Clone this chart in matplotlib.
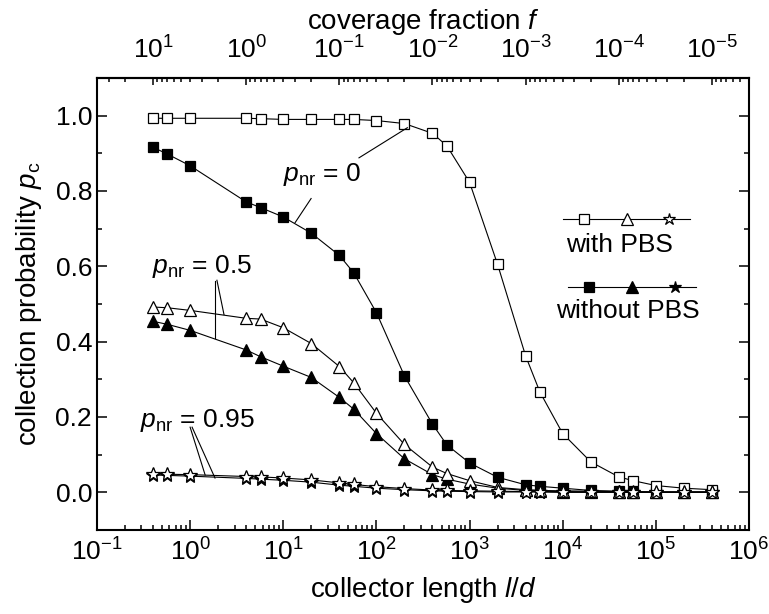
import matplotlib
matplotlib.use('Agg')
import matplotlib.pyplot as plt
from matplotlib.ticker import MultipleLocator, LogLocator, FixedLocator
import numpy as np

plt.rcParams['font.family'] = ['Liberation Sans', 'DejaVu Sans']
plt.rcParams['mathtext.fontset'] = 'custom'
plt.rcParams['mathtext.rm'] = 'Liberation Sans'
plt.rcParams['mathtext.it'] = 'Liberation Sans:italic'
plt.rcParams['axes.unicode_minus'] = False

# collector length l/d (shared by all series); coverage fraction f = 4 / (l/d)
length = [0.4, 0.57, 1, 4, 5.7, 10, 20, 40, 57, 100, 200, 400, 570, 1000,
          2000, 4000, 5700, 1e4, 2e4, 4e4, 5.7e4, 1e5, 2e5, 4e5]
bottom_ticks = [1e-1, 1e0, 1e1, 1e2, 1e3, 1e4, 1e5, 1e6]
top_ticks = [1e1, 1e0, 1e-1, 1e-2, 1e-3, 1e-4, 1e-5]

# p_nr = 0
sq_pbs = [0.993, 0.993, 0.993, 0.993, 0.992, 0.990, 0.990, 0.990, 0.990, 0.987,
          0.979, 0.953, 0.920, 0.823, 0.605, 0.362, 0.266, 0.156, 0.081, 0.041,
          0.031, 0.018, 0.011, 0.007]
sq_nopbs = [0.916, 0.898, 0.867, 0.771, 0.756, 0.731, 0.688, 0.629, 0.583, 0.477,
            0.309, 0.181, 0.126, 0.078, 0.040, 0.020, 0.016, 0.011, 0.005, 0.003,
            0.002, 0.001, 0.001, 0.001]
# p_nr = 0.5
tri_pbs = [0.492, 0.490, 0.483, 0.462, 0.460, 0.437, 0.395, 0.334, 0.291, 0.210,
           0.127, 0.067, 0.050, 0.031, 0.013, 0.007, 0.005, 0.004, 0.003, 0.002,
           0.001, 0.001, 0.001, 0.001]
tri_nopbs = [0.454, 0.446, 0.430, 0.378, 0.360, 0.335, 0.305, 0.252, 0.221, 0.156,
             0.089, 0.047, 0.035, 0.022, 0.011, 0.005, 0.003, 0.002, 0.001, 0.001,
             0.001, 0.000, 0.000, 0.000]
# p_nr = 0.95
star_pbs = [0.049, 0.048, 0.047, 0.042, 0.041, 0.038, 0.033, 0.025, 0.021, 0.015,
            0.010, 0.006, 0.005, 0.004, 0.003, 0.002, 0.002, 0.001, 0.001, 0.001,
            0.001, 0.000, 0.000, 0.000]
star_nopbs = [0.046, 0.045, 0.043, 0.037, 0.035, 0.032, 0.027, 0.019, 0.016, 0.011,
              0.007, 0.004, 0.003, 0.002, 0.001, 0.001, 0.001, 0.000, 0.000, 0.000,
              0.000, 0.000, 0.000, 0.000]

fig = plt.figure(figsize=(7.69, 6.14), dpi=100)
ax = fig.add_axes([0.1261, 0.1368, 0.8479, 0.7362])

lw = 0.8
# filled (without PBS) first, open (with PBS) on top
series = [
    (sq_nopbs, 's', 'black', 7.5),
    (tri_nopbs, '^', 'black', 9),
    (star_nopbs, '*', 'black', 10),
    (sq_pbs, 's', 'white', 7.5),
    (tri_pbs, '^', 'white', 9),
    (star_pbs, '*', 'white', 10),
]
for vals, mk, fc, ms in series:
    ax.plot(length, vals, color='black', linewidth=lw, marker=mk, markersize=ms,
            markerfacecolor=fc, markeredgecolor='black', markeredgewidth=0.9)

ax.set_xscale('log')
ax.set_xlim(0.1, 1e6)
ax.set_ylim(-0.1, 1.1)
ax.yaxis.set_minor_locator(MultipleLocator(0.1))
ax.xaxis.set_major_locator(FixedLocator(bottom_ticks))
ax.xaxis.set_minor_locator(LogLocator(base=10, subs=np.arange(2, 10), numticks=20))
ax.set_yticks([0, 0.2, 0.4, 0.6, 0.8, 1.0])
ax.set_yticklabels(['0.0', '0.2', '0.4', '0.6', '0.8', '1.0'])

for s in ax.spines.values():
    s.set_linewidth(1.5)
ax.tick_params(axis='both', which='both', direction='in', width=1.1,
               labelsize=19, top=False, right=True)
ax.tick_params(axis='both', which='major', length=7)
ax.tick_params(axis='both', which='minor', length=3.5)
ax.tick_params(axis='x', which='major', pad=6)

ax.set_xlabel(r'collector length $l/d$', fontsize=20, labelpad=7)
ax.set_ylabel(r'collection probability $p_{\rm c}$', fontsize=20, labelpad=8)


def to_f(x):
    x = np.asarray(x, dtype=float)
    with np.errstate(divide='ignore'):
        return 4.0 / x


secax = ax.secondary_xaxis('top', functions=(to_f, to_f))
secax.xaxis.set_major_locator(FixedLocator(top_ticks))
secax.xaxis.set_minor_locator(LogLocator(base=10, subs=np.arange(2, 10), numticks=20))
secax.tick_params(axis='x', which='both', direction='in', width=1.1, labelsize=19)
secax.tick_params(axis='x', which='major', length=5, pad=10)
secax.tick_params(axis='x', which='minor', length=3)
secax.spines['top'].set_linewidth(1.5)
secax.set_xlabel(r'coverage fraction $f$', fontsize=20, labelpad=6)

# annotations
tk = dict(fontsize=19, ha='center', va='center')
ax.text(26, 0.843, r'$p_{\rm nr}$ = 0', **tk)
ax.plot([65, 215], [0.888, 0.968], color='black', linewidth=lw)
ax.plot([19.9, 13.4], [0.780, 0.716], color='black', linewidth=lw)

ax.text(1.34, 0.600, r'$p_{\rm nr}$ = 0.5', **tk)
ax.plot([1.94, 2.31], [0.563, 0.472], color='black', linewidth=lw)
ax.plot([1.85, 1.85], [0.560, 0.409], color='black', linewidth=lw)

ax.text(1.2, 0.192, r'$p_{\rm nr}$ = 0.95', **tk)
ax.plot([1.0, 1.45], [0.173, 0.046], color='black', linewidth=lw)
ax.plot([1.05, 1.85], [0.173, 0.038], color='black', linewidth=lw)

# hand-made legend
tr = ax.transAxes
ax.plot([0.714, 0.910], [0.687, 0.687], color='black', linewidth=lw, transform=tr)
for xm, mk, ms in [(0.747, 's', 7.5), (0.813, '^', 9), (0.878, '*', 9)]:
    ax.plot([xm], [0.687], marker=mk, markersize=ms, markerfacecolor='white',
            markeredgecolor='black', markeredgewidth=0.9, transform=tr)
ax.text(0.801, 0.631, 'with PBS', transform=tr, **tk)

ax.plot([0.722, 0.919], [0.538, 0.538], color='black', linewidth=lw, transform=tr)
for xm, mk, ms in [(0.755, 's', 7.5), (0.821, '^', 9), (0.887, '*', 9)]:
    ax.plot([xm], [0.538], marker=mk, markersize=ms, markerfacecolor='black',
            markeredgecolor='black', markeredgewidth=0.9, transform=tr)
ax.text(0.814, 0.485, 'without PBS', transform=tr, **tk)

fig.savefig('out.png', dpi=100)
